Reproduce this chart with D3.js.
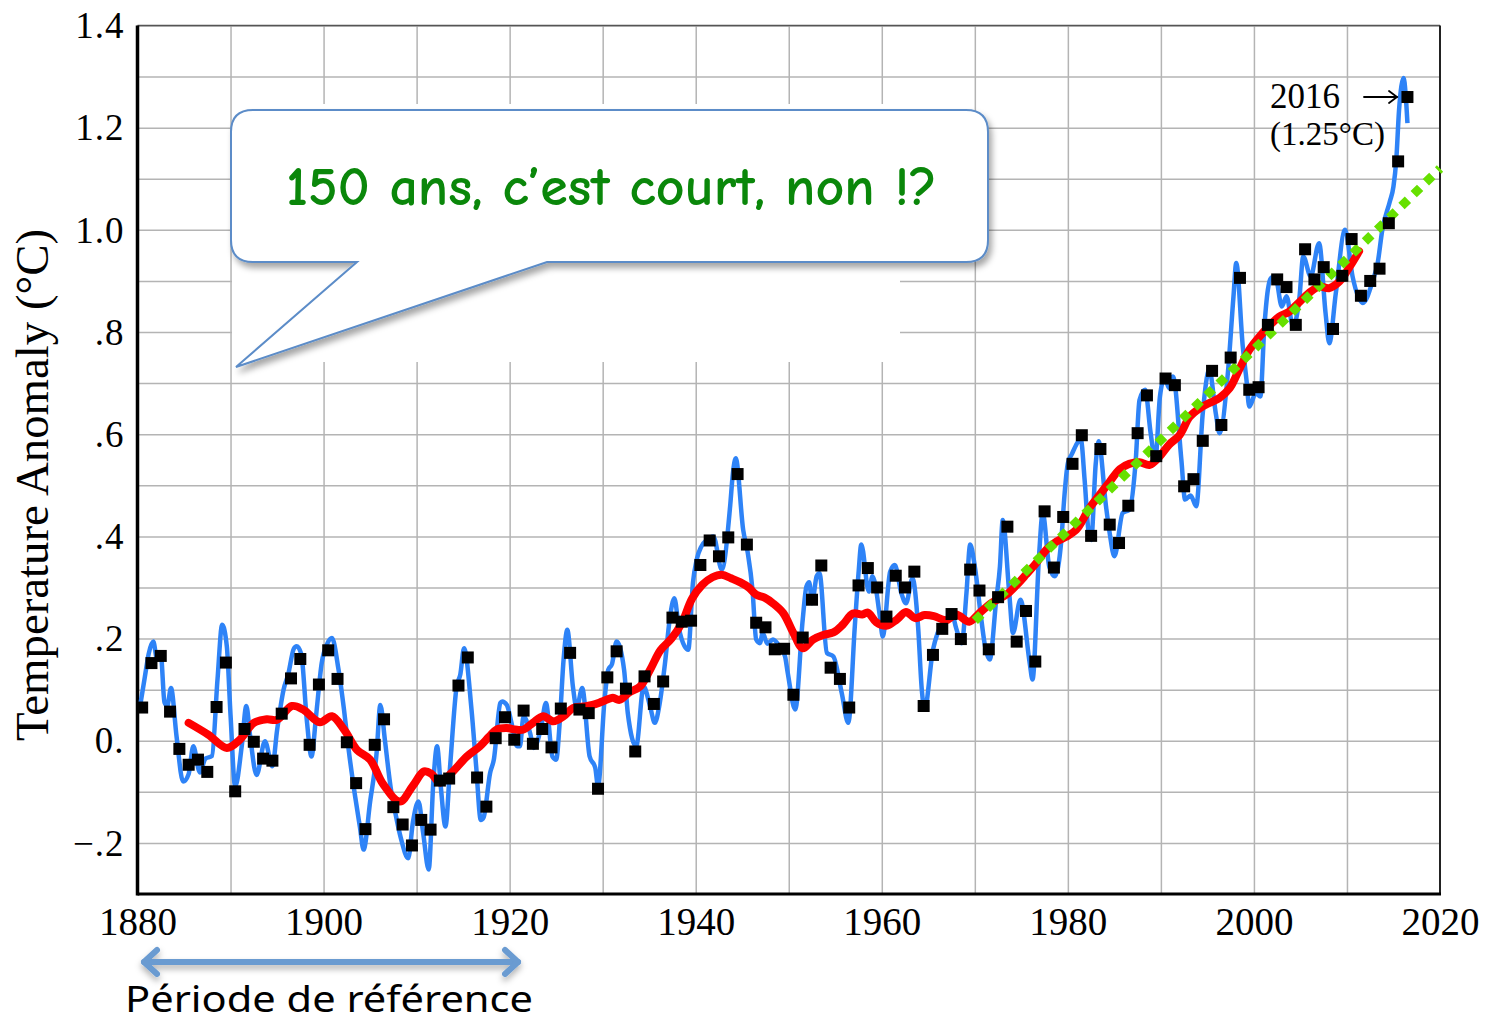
<!DOCTYPE html>
<html>
<head>
<meta charset="utf-8">
<script src="https://cdn.jsdelivr.net/npm/d3@7"></script>
<style>
  body { margin: 0; background: #fff; }
  svg { display: block; }
</style>
</head>
<body>
<svg id="chart" width="1485" height="1023"></svg>
<script>
// annual anomalies, 1880 -> 2016 (black squares)
const firstYear = 1880;
const annual = [
  0.065, 0.152, 0.166, 0.057, -0.016, -0.047, -0.037, -0.061, 0.066, 0.153,
  -0.099, 0.023, -0.002, -0.035, -0.039, 0.053, 0.122, 0.160, -0.008, 0.110,
  0.177, 0.121, -0.003, -0.083, -0.173, -0.008, 0.042, -0.130, -0.164, -0.205,
  -0.155, -0.174, -0.078, -0.074, 0.108, 0.163, -0.072, -0.129, 0.005, 0.046,
  0.002, 0.059, -0.006, 0.023, -0.013, 0.063, 0.172, 0.061, 0.054, -0.094,
  0.124, 0.175, 0.102, -0.021, 0.126, 0.072, 0.116, 0.241, 0.233, 0.235,
  0.344, 0.392, 0.361, 0.398, 0.522, 0.384, 0.231, 0.222, 0.179, 0.180,
  0.090, 0.202, 0.276, 0.343, 0.143, 0.121, 0.065, 0.304, 0.338, 0.300,
  0.243, 0.323, 0.300, 0.331, 0.068, 0.168, 0.219, 0.248, 0.199, 0.335,
  0.294, 0.179, 0.281, 0.419, 0.194, 0.254, 0.155, 0.449, 0.339, 0.438,
  0.542, 0.598, 0.401, 0.571, 0.423, 0.387, 0.460, 0.602, 0.676, 0.557,
  0.709, 0.696, 0.498, 0.512, 0.587, 0.724, 0.618, 0.750, 0.906, 0.687,
  0.692, 0.814, 0.903, 0.888, 0.814, 0.962, 0.903, 0.927, 0.806, 0.910,
  0.982, 0.871, 0.900, 0.924, 1.013, 1.134, 1.260
];

// running mean (red)
const meanYears = [
  1885.5, 1887.6, 1889.6, 1891.0, 1892.5, 1893.9, 1895.0, 1896.6, 1897.8, 1899.6,
  1900.9, 1902.2, 1903.6, 1905.0, 1906.4, 1908.2, 1909.6, 1910.8, 1911.6, 1912.5,
  1913.8, 1915.4, 1916.8, 1917.8, 1918.6, 1919.7, 1920.6, 1921.5, 1922.5, 1923.6,
  1924.7, 1925.8, 1926.8, 1927.9, 1928.9, 1930.0, 1931.1, 1931.8, 1932.9, 1934.0,
  1935.1, 1936.2, 1937.4, 1938.5, 1939.6, 1940.7, 1941.8, 1942.8, 1943.8, 1944.8,
  1945.7, 1946.5, 1947.4, 1948.3, 1949.4, 1950.5, 1951.5, 1952.6, 1953.7, 1954.8,
  1955.8, 1956.9, 1957.9, 1958.5, 1959.4, 1960.5, 1961.6, 1962.6, 1963.6, 1964.6,
  1965.6, 1966.9, 1968.0, 1969.4, 1970.5, 1971.9, 1973.4, 1974.5, 1975.5, 1976.6,
  1977.7, 1978.8, 1979.8, 1980.9, 1981.6, 1982.3, 1983.4, 1984.5, 1985.6, 1986.6,
  1987.7, 1988.8, 1989.8, 1990.9, 1992.0, 1993.1, 1994.2, 1995.2, 1996.3, 1997.4,
  1998.4, 1999.5, 2000.6, 2001.6, 2002.7, 2003.8, 2004.8, 2005.9, 2007.0, 2008.1,
  2009.2, 2010.3, 2011.3
];
const meanValues = [
  0.035, 0.012, -0.014, 0.002, 0.035, 0.042, 0.041, 0.068, 0.061, 0.036,
  0.048, 0.022, -0.018, -0.037, -0.085, -0.119, -0.088, -0.060, -0.065, -0.082,
  -0.062, -0.031, -0.011, 0.008, 0.022, 0.025, 0.022, 0.022, 0.035, 0.048,
  0.038, 0.048, 0.064, 0.067, 0.070, 0.077, 0.084, 0.080, 0.095, 0.106,
  0.139, 0.177, 0.200, 0.230, 0.278, 0.305, 0.320, 0.325, 0.318, 0.310,
  0.300, 0.286, 0.280, 0.269, 0.250, 0.211, 0.181, 0.198, 0.207, 0.212,
  0.227, 0.249, 0.247, 0.251, 0.232, 0.225, 0.237, 0.252, 0.240, 0.246,
  0.244, 0.236, 0.247, 0.233, 0.250, 0.271, 0.286, 0.305, 0.325, 0.348,
  0.374, 0.390, 0.399, 0.413, 0.432, 0.455, 0.481, 0.507, 0.532, 0.542,
  0.545, 0.540, 0.555, 0.580, 0.598, 0.634, 0.651, 0.661, 0.671, 0.690,
  0.726, 0.765, 0.791, 0.811, 0.830, 0.840, 0.857, 0.876, 0.889, 0.886,
  0.899, 0.928, 0.958
];

// monthly smoothed curve (blue), peaks and troughs
const monthlyYears = [
  1880.3, 1880.8, 1881.2, 1881.7, 1882.1, 1882.5, 1882.9, 1883.2, 1883.6, 1884.2,
  1884.9, 1885.5, 1886.0, 1886.7, 1887.3, 1888.0, 1888.6, 1889.1, 1889.6, 1890.0,
  1890.5, 1891.2, 1891.7, 1892.1, 1892.8, 1893.7, 1894.5, 1895.0, 1895.7, 1896.2,
  1896.8, 1897.1, 1897.6, 1898.2, 1898.7, 1899.2, 1899.8, 1900.4, 1900.9, 1901.6,
  1902.2, 1902.7, 1903.4, 1903.9, 1904.3, 1905.0, 1905.7, 1906.1, 1906.6, 1907.2,
  1907.7, 1908.3, 1909.1, 1909.6, 1910.2, 1910.7, 1911.3, 1911.8, 1912.2, 1912.6,
  1913.1, 1913.6, 1914.3, 1914.7, 1915.1, 1915.9, 1916.4, 1916.9, 1917.2, 1917.9,
  1918.3, 1919.0, 1919.2, 1919.7, 1920.2, 1920.8, 1921.1, 1921.5, 1922.2, 1922.6,
  1923.4, 1923.9, 1924.6, 1925.0, 1925.4, 1925.8, 1926.2, 1926.8, 1927.2, 1927.8,
  1928.6, 1929.2, 1929.5, 1930.2, 1930.6, 1931.0, 1931.5, 1932.3, 1932.7, 1933.6,
  1934.4, 1935.1, 1935.6, 1936.1, 1936.7, 1937.2, 1937.7, 1938.2, 1938.8, 1939.2,
  1939.7, 1940.1, 1940.6, 1941.2, 1941.9, 1942.8, 1943.7, 1944.0, 1944.3, 1945.1,
  1945.6, 1946.1, 1946.5, 1946.9, 1947.2, 1947.7, 1948.3, 1949.0, 1949.6, 1949.9,
  1950.7, 1951.5, 1951.9, 1952.2, 1952.5, 1953.0, 1953.3, 1954.1, 1954.8, 1955.7,
  1956.4, 1957.1, 1957.5, 1957.8, 1958.6, 1959.0, 1959.8, 1960.1, 1960.9, 1961.4,
  1962.1, 1962.6, 1963.3, 1963.9, 1964.3, 1964.6, 1965.5, 1966.0, 1966.9, 1967.5,
  1968.0, 1968.6, 1969.1, 1969.5, 1970.0, 1970.7, 1971.1, 1971.6, 1972.3, 1972.7,
  1973.0, 1973.7, 1974.1, 1974.9, 1975.9, 1976.2, 1976.9, 1977.3, 1978.0, 1978.6,
  1979.3, 1979.6, 1980.0, 1980.4, 1981.4, 1981.8, 1982.2, 1982.5, 1983.0, 1983.3,
  1984.1, 1984.5, 1985.0, 1985.9, 1986.6, 1987.3, 1987.7, 1988.3, 1988.9, 1989.4,
  1989.9, 1990.4, 1990.9, 1991.3, 1992.2, 1992.6, 1993.2, 1993.8, 1994.5, 1995.2,
  1995.9, 1996.3, 1997.2, 1997.8, 1998.1, 1998.8, 1999.2, 1999.5, 2000.2, 2000.7,
  2001.1, 2001.5, 2001.8, 2002.3, 2003.0, 2003.5, 2004.2, 2004.9, 2005.3, 2006.1,
  2007.0, 2007.7, 2008.1, 2008.8, 2009.8, 2010.6, 2011.7, 2012.8, 2013.3, 2013.8,
  2014.6, 2015.0, 2015.3, 2015.6, 2016.1, 2016.3, 2016.5
];
const monthlyValues = [
  0.070, 0.126, 0.170, 0.194, 0.160, 0.170, 0.075, 0.068, 0.103, 0.008,
  -0.080, -0.065, -0.011, -0.062, -0.035, -0.030, 0.120, 0.227, 0.185, 0.050,
  -0.090, -0.011, 0.068, 0.010, -0.067, -0.001, -0.050, 0.020, 0.100, 0.130,
  0.180, 0.185, 0.170, 0.040, -0.031, 0.050, 0.152, 0.190, 0.201, 0.140,
  0.060, -0.018, -0.110, -0.168, -0.213, -0.120, -0.024, 0.070, 0.000, -0.090,
  -0.140, -0.190, -0.230, -0.160, -0.119, -0.180, -0.252, -0.080, -0.011, -0.090,
  -0.168, -0.050, 0.106, 0.130, 0.181, 0.061, -0.050, -0.155, -0.150, -0.063,
  -0.037, 0.074, 0.077, 0.070, 0.035, -0.011, -0.011, 0.048, 0.015, -0.014,
  0.028, 0.074, -0.031, -0.037, 0.041, 0.159, 0.217, 0.106, 0.064, 0.103,
  -0.031, -0.053, -0.089, 0.080, 0.139, 0.150, 0.194, 0.139, 0.054, -0.011,
  0.106, 0.067, 0.035, 0.070, 0.152, 0.237, 0.279, 0.220, 0.185, 0.178,
  0.309, 0.354, 0.380, 0.393, 0.400, 0.335, 0.459, 0.524, 0.553, 0.413,
  0.367, 0.296, 0.198, 0.191, 0.211, 0.190, 0.198, 0.185, 0.165, 0.132,
  0.061, 0.237, 0.302, 0.310, 0.269, 0.322, 0.328, 0.172, 0.165, 0.093,
  0.035, 0.224, 0.328, 0.384, 0.292, 0.322, 0.243, 0.204, 0.331, 0.344,
  0.289, 0.269, 0.318, 0.224, 0.100, 0.061, 0.178, 0.211, 0.237, 0.250,
  0.220, 0.191, 0.289, 0.384, 0.341, 0.237, 0.185, 0.159, 0.276, 0.341,
  0.432, 0.289, 0.211, 0.276, 0.152, 0.120, 0.361, 0.446, 0.341, 0.322,
  0.393, 0.472, 0.543, 0.560, 0.589, 0.511, 0.413, 0.393, 0.543, 0.586,
  0.459, 0.406, 0.361, 0.446, 0.452, 0.550, 0.667, 0.687, 0.602, 0.550,
  0.674, 0.710, 0.690, 0.713, 0.550, 0.472, 0.480, 0.459, 0.641, 0.726,
  0.641, 0.602, 0.720, 0.869, 0.935, 0.772, 0.706, 0.654, 0.680, 0.674,
  0.804, 0.883, 0.905, 0.909, 0.850, 0.870, 0.811, 0.869, 0.948, 0.909,
  0.974, 0.837, 0.778, 0.876, 1.000, 0.909, 0.857, 0.902, 0.935, 1.000,
  1.055, 1.085, 1.137, 1.235, 1.297, 1.267, 1.209
];

// linear trend since 1970 (green dots)
const trendYears = [1970, 2020];
const trendValues = [0.235, 1.12];

const baselineValue = -0.03;
const xTicks = [1880, 1900, 1920, 1940, 1960, 1980, 2000, 2020];
const yTicks = [1.4, 1.2, 1.0, 0.8, 0.6, 0.4, 0.2, 0, -0.2];
const yTickLabels = ["1.4", "1.2", "1.0", ".8", ".6", ".4", ".2", "0.", "\u2212.2"];

const svg = d3.select("#chart");
const x = d3.scaleLinear().domain([1880, 2020]).range([137.5, 1440]);
const y = d3.scaleLinear().domain([-0.3, 1.4]).range([894, 25.5]);
const serif = "'Liberation Serif', 'Times New Roman', serif";

const defs = svg.append("defs");
defs.append("filter").attr("id", "shadow")
  .attr("x", "-10%").attr("y", "-10%").attr("width", "130%").attr("height", "140%")
  .append("feDropShadow")
  .attr("dx", 3).attr("dy", 5).attr("stdDeviation", 3)
  .attr("flood-color", "#000").attr("flood-opacity", 0.35);
defs.append("filter").attr("id", "lineShadow")
  .attr("x", "-5%").attr("y", "-500%").attr("width", "110%").attr("height", "1100%")
  .append("feDropShadow")
  .attr("dx", 0).attr("dy", 4).attr("stdDeviation", 3)
  .attr("flood-color", "#000").attr("flood-opacity", 0.3);

// grid
svg.append("g")
  .attr("transform", `translate(${x(1880)},0)`)
  .call(d3.axisLeft(y).tickValues(d3.range(-2, 15).map(d => d / 10))
    .tickSize(-(x(2020) - x(1880))).tickFormat(""))
  .call(g => g.select(".domain").remove())
  .call(g => g.selectAll("line").attr("stroke", "#b4b4b4").attr("stroke-width", 1.5));
svg.append("g")
  .attr("transform", `translate(0,${y(-0.3)})`)
  .call(d3.axisBottom(x).tickValues(d3.range(1890, 2011, 10))
    .tickSize(-(y(-0.3) - y(1.4))).tickFormat(""))
  .call(g => g.select(".domain").remove())
  .call(g => g.selectAll("line").attr("stroke", "#b4b4b4").attr("stroke-width", 1.5));

// frame
svg.append("line").attr("x1", x(1880)).attr("x2", x(2020)).attr("y1", y(1.4)).attr("y2", y(1.4))
  .attr("stroke", "#555").attr("stroke-width", 1.5);
svg.append("line").attr("x1", x(2020)).attr("x2", x(2020)).attr("y1", y(1.4)).attr("y2", y(-0.3))
  .attr("stroke", "#222").attr("stroke-width", 2);
svg.append("line").attr("x1", x(1880)).attr("x2", x(1880)).attr("y1", y(1.4)).attr("y2", y(-0.3) + 1.5)
  .attr("stroke", "#000").attr("stroke-width", 3.5);
svg.append("line").attr("x1", x(1880)).attr("x2", x(2020) + 1).attr("y1", y(-0.3)).attr("y2", y(-0.3))
  .attr("stroke", "#000").attr("stroke-width", 3);

// y tick labels
svg.append("g")
  .attr("transform", `translate(${x(1880)},0)`)
  .call(d3.axisLeft(y).tickValues(yTicks).tickSize(0).tickPadding(13)
    .tickFormat((d, i) => yTickLabels[i]))
  .call(g => g.select(".domain").remove())
  .call(g => g.selectAll("text").attr("font-family", serif).attr("font-size", 37)
    .attr("fill", "#000").attr("dy", "0.33em").attr("letter-spacing", 1));

// x tick labels
svg.append("g")
  .attr("transform", `translate(0,${y(-0.3)})`)
  .call(d3.axisBottom(x).tickValues(xTicks).tickSize(0).tickFormat(d3.format("d")))
  .call(g => g.select(".domain").remove())
  .call(g => g.selectAll("text").attr("font-family", serif).attr("font-size", 39)
    .attr("fill", "#000").attr("y", 41).attr("dy", 0));

// axis title
svg.append("text")
  .attr("transform", "translate(48,485) rotate(-90)")
  .attr("text-anchor", "middle")
  .attr("font-family", serif).attr("font-size", 46)
  .attr("textLength", 512).attr("lengthAdjust", "spacingAndGlyphs")
  .text("Temperature Anomaly (\u00B0C)");

// zero reference line
svg.append("line")
  .attr("x1", x(1880.6)).attr("x2", x(2020)).attr("y1", y(baselineValue)).attr("y2", y(baselineValue))
  .attr("stroke", "#111").attr("stroke-width", 2)
  .attr("filter", "url(#lineShadow)");

// blue monthly curve
const blueLine = d3.line()
  .x((d, i) => x(monthlyYears[i]))
  .y(d => y(d))
  .curve(d3.curveMonotoneX);
svg.append("path")
  .attr("d", blueLine(monthlyValues))
  .attr("fill", "none").attr("stroke", "#2e83f7").attr("stroke-width", 4.5)
  .attr("stroke-linejoin", "round");

// red running mean
const redLine = d3.line()
  .x((d, i) => x(meanYears[i]))
  .y(d => y(d))
  .curve(d3.curveCatmullRom.alpha(0.5));
svg.append("path")
  .attr("d", redLine(meanValues))
  .attr("fill", "none").attr("stroke", "#ff0000").attr("stroke-width", 8)
  .attr("stroke-linejoin", "round").attr("stroke-linecap", "round");

// green trend
svg.append("path")
  .attr("d", d3.line().x((d, i) => x(trendYears[i])).y(d => y(d))(trendValues))
  .attr("fill", "none").attr("stroke", "#66e000").attr("stroke-width", 9)
  .attr("stroke-dasharray", "9 8");

// annual squares
svg.append("g").selectAll("rect")
  .data(annual)
  .join("rect")
  .attr("x", (d, i) => x(firstYear + i + 0.5) - 6)
  .attr("y", d => y(d) - 6)
  .attr("width", 12).attr("height", 12)
  .attr("fill", "#000");

// 2016 note
svg.append("text").attr("x", 1270).attr("y", 108)
  .attr("font-family", serif).attr("font-size", 35).text("2016");
const noteArrow = svg.append("g").attr("stroke", "#000").attr("fill", "none")
  .attr("stroke-width", 1.8).attr("stroke-linecap", "round");
noteArrow.append("line").attr("x1", 1364).attr("x2", 1397).attr("y1", 97).attr("y2", 97);
noteArrow.append("polyline").attr("points", "1389,91 1397,97 1389,103");
svg.append("text").attr("x", 1270).attr("y", 145)
  .attr("font-family", serif).attr("font-size", 33).text("(1.25\u00B0C)");

// speech bubble
svg.append("rect").attr("x", 232).attr("y", 104).attr("width", 668).attr("height", 258)
  .attr("fill", "#fff");
svg.append("path")
  .attr("d", "M253,110 H966 Q988,110 988,132 V240 Q988,262 966,262 H547 L236,367 L357,262 H253 Q231,262 231,240 V132 Q231,110 253,110 Z")
  .attr("fill", "#fff").attr("stroke", "#5b8cc8").attr("stroke-width", 2)
  .attr("filter", "url(#shadow)");
svg.append("text")
  .attr("x", 286).attr("y", 205)
  .attr("font-family", "'Comic Sans MS', 'Comic Neue', Lato, sans-serif")
  .attr("font-size", 54).attr("font-weight", "bold").attr("fill", "#0a870a")
  .attr("textLength", 651).attr("lengthAdjust", "spacingAndGlyphs")
  .text("150 ans, c\u2019est court, non !?");

// reference period arrow
const arrowY = 962;
const arrow = svg.append("g").attr("stroke", "#6a9bd1").attr("fill", "none")
  .attr("stroke-width", 6).attr("stroke-linecap", "round").attr("stroke-linejoin", "round")
  .attr("filter", "url(#lineShadow)");
arrow.append("line").attr("x1", x(1880.7)).attr("x2", x(1920.9)).attr("y1", arrowY).attr("y2", arrowY);
arrow.append("polyline")
  .attr("points", `${x(1880.7) + 13},${arrowY - 12} ${x(1880.7)},${arrowY} ${x(1880.7) + 13},${arrowY + 12}`);
arrow.append("polyline")
  .attr("points", `${x(1920.9) - 13},${arrowY - 12} ${x(1920.9)},${arrowY} ${x(1920.9) - 13},${arrowY + 12}`);

svg.append("text")
  .attr("x", 125).attr("y", 1012)
  .attr("font-family", "'Liberation Sans Narrow', 'Noto Sans', sans-serif")
  .attr("font-size", 37)
  .attr("textLength", 408).attr("lengthAdjust", "spacingAndGlyphs")
  .text("P\u00E9riode de r\u00E9f\u00E9rence");
</script>
</body>
</html>
